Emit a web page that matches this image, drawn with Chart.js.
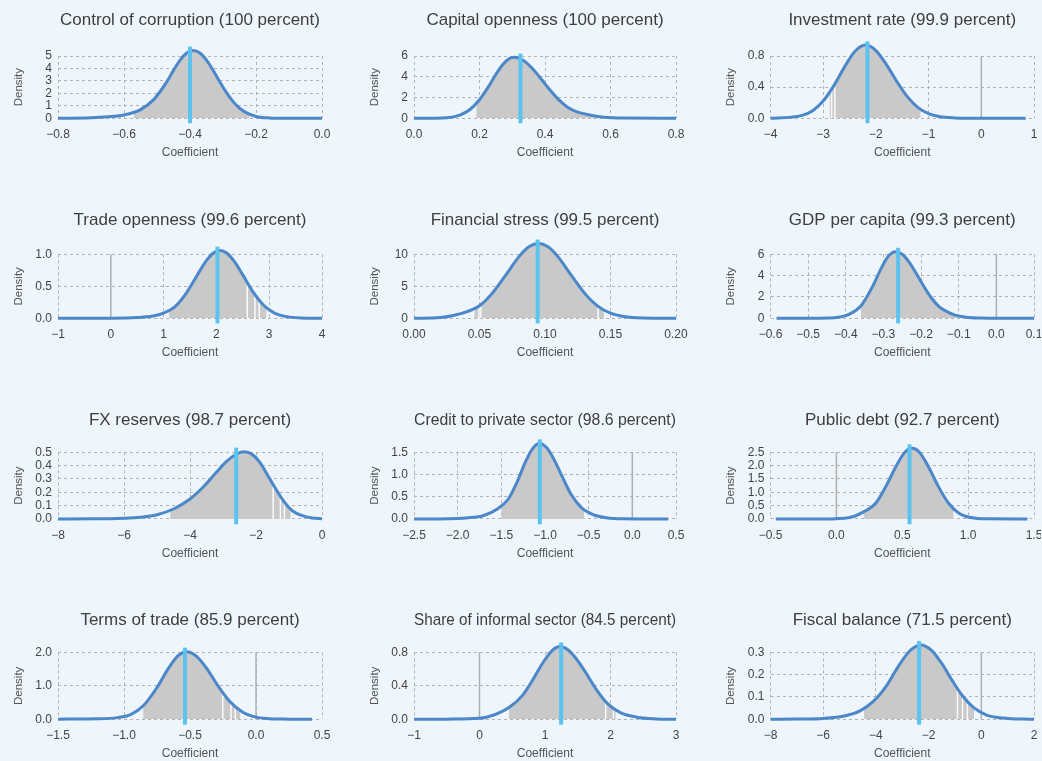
<!DOCTYPE html>
<html><head><meta charset="utf-8">
<script src="https://cdn.jsdelivr.net/npm/chart.js@4"></script>
<style>
html,body{margin:0;padding:0;background:#eef5fb;overflow:hidden;width:1042px;height:761px;}
canvas{position:absolute;}
</style></head><body>
<script>
const titles = [
  "Control of corruption (100 percent)", "Capital openness (100 percent)", "Investment rate (99.9 percent)",
  "Trade openness (99.6 percent)", "Financial stress (99.5 percent)", "GDP per capita (99.3 percent)",
  "FX reserves (98.7 percent)", "Credit to private sector (98.6 percent)", "Public debt (92.7 percent)",
  "Terms of trade (85.9 percent)", "Share of informal sector (84.5 percent)", "Fiscal balance (71.5 percent)"
];
const xTickLabels = [
  ["−0.8","−0.6","−0.4","−0.2","0.0"],
  ["0.0","0.2","0.4","0.6","0.8"],
  ["−4","−3","−2","−1","0","1"],
  ["−1","0","1","2","3","4"],
  ["0.00","0.05","0.10","0.15","0.20"],
  ["−0.6","−0.5","−0.4","−0.3","−0.2","−0.1","0.0","0.1"],
  ["−8","−6","−4","−2","0"],
  ["−2.5","−2.0","−1.5","−1.0","−0.5","0.0","0.5"],
  ["−0.5","0.0","0.5","1.0","1.5"],
  ["−1.5","−1.0","−0.5","0.0","0.5"],
  ["−1","0","1","2","3"],
  ["−8","−6","−4","−2","0","2"]
];
const yTickLabels = [
  ["0","1","2","3","4","5"],
  ["0","2","4","6"],
  ["0.0","0.4","0.8"],
  ["0.0","0.5","1.0"],
  ["0","5","10"],
  ["0","2","4","6"],
  ["0.0","0.1","0.2","0.3","0.4","0.5"],
  ["0.0","0.5","1.0","1.5"],
  ["0.0","0.5","1.0","1.5","2.0","2.5"],
  ["0.0","1.0","2.0"],
  ["0.0","0.4","0.8"],
  ["0.0","0.1","0.2","0.3"]
];
const curveX = [
  [-0.8,-0.7,-0.65,-0.6,-0.55,-0.51,-0.47,-0.45,-0.43,-0.41,-0.39,-0.37,-0.35,-0.33,-0.31,-0.29,-0.27,-0.25,-0.23,-0.2,-0.16,-0.1,0],
  [0,0.1,0.14,0.17,0.2,0.225,0.25,0.27,0.29,0.305,0.32,0.34,0.36,0.38,0.4,0.42,0.44,0.47,0.5,0.54,0.58,0.64,0.8],
  [-4,-3.6,-3.4,-3.2,-3.0,-2.8,-2.6,-2.4,-2.2,-2.0,-1.8,-1.6,-1.4,-1.2,-1.0,-0.8,-0.5,0,0.84],
  [-1,0,0.5,0.8,1.0,1.2,1.4,1.6,1.8,1.95,2.07,2.2,2.35,2.5,2.7,2.9,3.1,3.3,3.6,4],
  [0,0.02,0.03,0.04,0.05,0.06,0.07,0.08,0.088,0.095,0.102,0.11,0.12,0.13,0.14,0.15,0.16,0.175,0.2],
  [-0.584,-0.5,-0.45,-0.42,-0.39,-0.36,-0.33,-0.305,-0.285,-0.268,-0.25,-0.23,-0.21,-0.19,-0.17,-0.15,-0.13,-0.11,-0.08,-0.04,0,0.1],
  [-8,-7,-6.5,-6,-5.5,-5,-4.5,-4,-3.6,-3.2,-2.9,-2.6,-2.38,-2.15,-1.9,-1.65,-1.4,-1.15,-0.9,-0.6,-0.3,0],
  [-2.5,-2.1,-1.9,-1.7,-1.55,-1.42,-1.32,-1.22,-1.14,-1.062,-0.98,-0.9,-0.8,-0.7,-0.58,-0.45,-0.3,-0.1,0.41],
  [-0.46,-0.1,0.1,0.2,0.3,0.38,0.45,0.52,0.575,0.63,0.7,0.77,0.85,0.93,1.02,1.15,1.45],
  [-1.5,-1.2,-1.05,-0.95,-0.85,-0.75,-0.66,-0.59,-0.525,-0.45,-0.37,-0.29,-0.2,-0.1,0,0.1,0.25,0.424],
  [-1,-0.5,0,0.25,0.45,0.65,0.82,0.98,1.12,1.232,1.35,1.48,1.62,1.78,1.95,2.15,2.4,2.7,3],
  [-8,-7,-6,-5.2,-4.6,-4.1,-3.6,-3.1,-2.7,-2.29,-1.9,-1.5,-1.1,-0.7,-0.3,0.2,0.8,2]
];
const curveY = [
  [0,0.05,0.12,0.27,0.7,1.5,2.94,3.85,4.67,5.24,5.45,5.24,4.67,3.85,2.94,2.08,1.36,0.82,0.46,0.15,0.03,0,0],
  [0,0.06,0.31,0.82,1.79,2.93,4.23,5.14,5.73,5.87,5.79,5.43,4.85,4.11,3.32,2.55,1.85,1.05,0.6,0.3,0.1,0.02,0],
  [0.002,0.015,0.038,0.098,0.221,0.416,0.654,0.858,0.94,0.87,0.69,0.47,0.275,0.138,0.06,0.022,0.005,0,0],
  [0,0.002,0.012,0.035,0.08,0.17,0.358,0.622,0.89,1.024,1.06,1.017,0.877,0.678,0.406,0.2,0.082,0.03,0.005,0],
  [0.01,0.12,0.45,1.0,1.95,3.97,6.74,9.6,11.2,11.7,11.2,9.6,6.74,3.97,1.95,0.8,0.28,0.05,0],
  [0,0.005,0.03,0.1,0.4,1.15,2.9,4.75,5.9,6.25,6.0,5.18,4.04,2.83,1.79,1.03,0.6,0.3,0.1,0.02,0,0],
  [0,0.001,0.002,0.005,0.013,0.032,0.075,0.15,0.24,0.35,0.43,0.485,0.505,0.49,0.43,0.33,0.225,0.13,0.062,0.025,0.008,0.002],
  [0,0.005,0.025,0.08,0.22,0.45,0.83,1.3,1.59,1.7,1.6,1.35,0.94,0.55,0.25,0.1,0.03,0.005,0],
  [0,0.003,0.06,0.25,0.6,1.26,1.95,2.5,2.65,2.5,1.95,1.26,0.6,0.22,0.055,0.005,0],
  [0.005,0.015,0.05,0.14,0.42,0.95,1.54,1.9,2.02,1.88,1.5,1.01,0.54,0.21,0.065,0.02,0.004,0],
  [0,0.002,0.012,0.06,0.14,0.28,0.48,0.69,0.83,0.87,0.83,0.72,0.56,0.36,0.19,0.08,0.025,0.005,0],
  [0,0.001,0.004,0.015,0.038,0.08,0.15,0.246,0.308,0.333,0.31,0.25,0.173,0.103,0.053,0.019,0.006,0]
];
const meanValues = [-0.40, 0.325, -2.16, 2.02, 0.0944, -0.261, -2.6, -1.06, 0.555, -0.538, 1.247, -2.36];
const fillRanges = [
  [-0.57,-0.22],[0.19,0.57],[-2.88,-1.15],[1.1,2.95],[0.046,0.145],[-0.36,-0.1],
  [-4.6,-0.95],[-1.5,-0.55],[0.21,0.89],[-0.855,-0.12],[0.45,2.08],[-4.45,-0.27]
];
const gapPositions = [
  [],[],[-2.84,-2.78],[2.585,2.73,2.81],[0.0495,0.051,0.1405],[],
  [-1.48,-1.26,-1.14],[],[],[-0.252,-0.189,-0.158],[1.927,2.044],[-0.905,-0.71,-0.53]
];

Chart.defaults.font.family = '"Liberation Sans", Arial, sans-serif';
const num = s => Number(s.replace('\u2212','-'));
function interp(xs, ys, x){
  for (let k=0;k<xs.length-1;k++){
    if (x>=xs[k] && x<=xs[k+1]) { const t=(x-xs[k])/(xs[k+1]-xs[k]); return ys[k]+t*(ys[k+1]-ys[k]); }
  }
  return 0;
}
const unclip = {
  id:'unclip',
  beforeDatasetsDraw(c){ c.$top = c.chartArea.top; c.chartArea.top = 0; },
  afterDatasetsDraw(c){ c.chartArea.top = c.$top; }
};
const colL=[58,67,76.5], colR=[322,329,340];
const rowT=[56,54.3,52.3,52.3], rowB=[118.3,118.3,119,119.3];
const YW=49, XH=45;

for (let i=0;i<12;i++){
  const col=i%3,row=Math.floor(i/3);
  const cv=document.createElement('canvas');
  cv.width=347; cv.height=200;
  cv.style.left=(col*347)+'px'; cv.style.top=(row*200)+'px';
  document.body.appendChild(cv);
  const xv=xTickLabels[i].map(num), yv=yTickLabels[i].map(num);
  const xmin=xv[0], xmax=xv[xv.length-1], ymax=yv[yv.length-1];
  const xs=curveX[i], ys=curveY[i];
  const curve=xs.map((x,k)=>({x, y:ys[k]}));
  const peak=Math.max(...ys);
  const [fa,fb]=fillRanges[i];
  const fillPts=[{x:fa,y:interp(xs,ys,fa)}];
  xs.forEach((x,k)=>{ if(x>fa && x<fb) fillPts.push({x,y:ys[k]}); });
  fillPts.push({x:fb,y:interp(xs,ys,fb)});
  const gapPts=[];
  gapPositions[i].forEach(g=>{ gapPts.push({x:g,y:0},{x:g,y:interp(xs,ys,g)},{x:g,y:null}); });
  const datasets=[
    {data:[{x:meanValues[i],y:-0.08*ymax},{x:meanValues[i],y:peak+0.06*ymax}], borderColor:'#5bc3ee', borderWidth:4, order:1, clip:false},
    {data:curve, borderColor:'#4b87c9', borderWidth:3, cubicInterpolationMode:'monotone', capBezierPoints:false, order:2, clip:false},
    {data:gapPts, borderColor:'rgba(255,255,255,0.9)', borderWidth:1.5, order:4, clip:false},
    {data:fillPts, borderWidth:0, borderColor:'rgba(0,0,0,0)', backgroundColor:'#c9c9c9', fill:'origin', cubicInterpolationMode:'monotone', capBezierPoints:false, order:5, clip:false}
  ];
  if (xmin<0 && xmax>0) datasets.push({data:[{x:0,y:0},{x:0,y:ymax}], borderColor:'#b0b0b0', borderWidth:1.5, order:3, clip:false});
  datasets.forEach(d=>{ d.showLine=true; d.pointRadius=0; d.pointHoverRadius=0; if(d.fill===undefined) d.fill=false; });
  new Chart(cv,{
    type:'scatter',
    data:{datasets},
    plugins:[unclip],
    options:{
      responsive:false, animation:false, devicePixelRatio:1,
      events:[],
      layout:{padding:{left:colL[col]-YW, right:347-colR[col], top:0, bottom:200-XH-rowB[row]}},
      plugins:{
        legend:{display:false}, tooltip:{enabled:false},
        title:{display:true, text:titles[i], fullSize:false, color:'#3e3e3e',
          font:{size:17, weight:'normal'}, padding:{top:10, bottom:rowT[row]-30.4}}
      },
      scales:{
        x:{type:'linear', min:xmin, max:xmax,
          afterBuildTicks:s=>{ s.ticks=xv.map(v=>({value:v})); },
          ticks:{autoSkip:false, maxRotation:0, padding:9, color:'#444', font:{size:12},
            callback:(v,idx)=>xTickLabels[i][idx]},
          grid:{color:'#b3b3b3', drawTicks:false, lineWidth:1},
          border:{display:false, dash:[3,3]},
          title:{display:true, text:'Coefficient', color:'#555', font:{size:12}, padding:{top:0,bottom:3}},
          afterFit:s=>{ s.height=XH; s.paddingLeft=0; s.paddingRight=0; }
        },
        y:{type:'linear', min:0, max:ymax,
          afterBuildTicks:s=>{ s.ticks=yv.map(v=>({value:v})); },
          ticks:{autoSkip:false, padding:6, color:'#444', font:{size:12}, callback:(v,idx)=>yTickLabels[i][idx]},
          grid:{color:'#b3b3b3', drawTicks:false, lineWidth:1},
          border:{display:false, dash:[3,3]},
          title:{display:true, text:'Density', color:'#555', font:{size:11.5}, padding:{top:2.6,bottom:0}},
          afterFit:s=>{ s.width=YW; s.paddingTop=0; s.paddingBottom=0; }
        }
      }
    }
  });
}
</script>
</body></html>
